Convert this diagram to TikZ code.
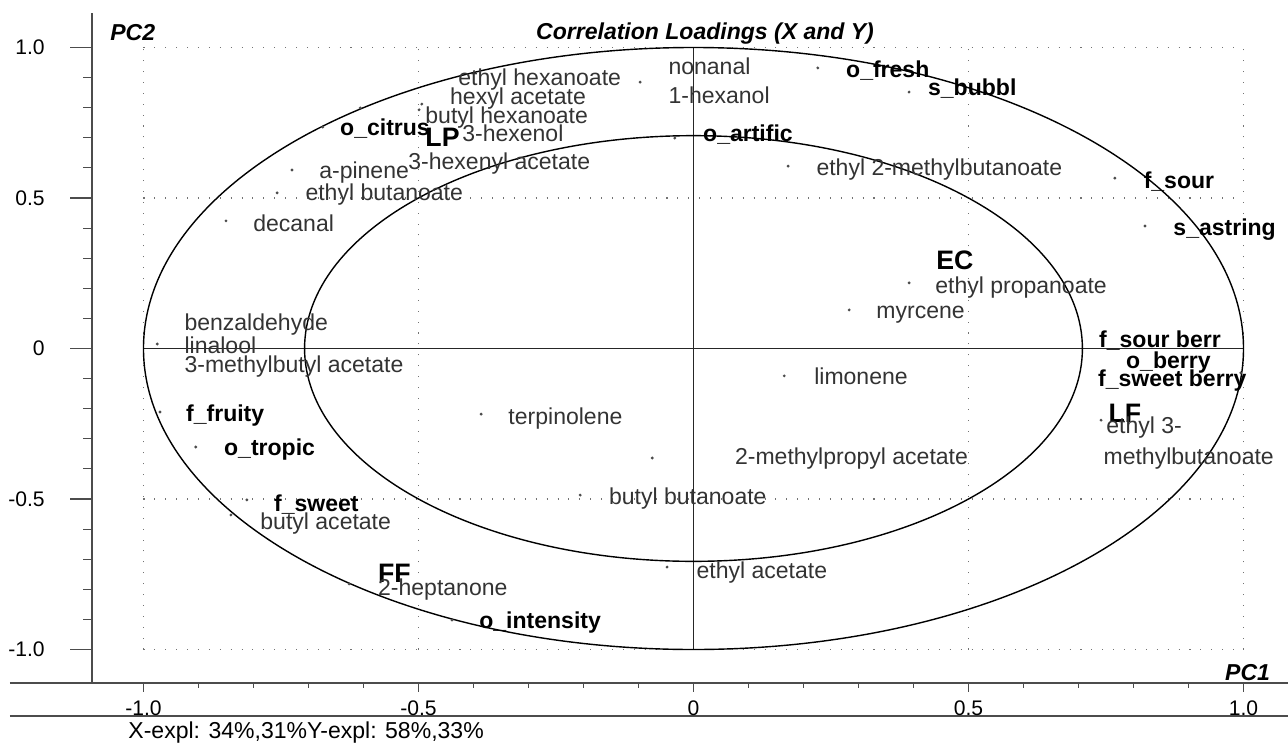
\documentclass[tikz,border=0pt]{standalone}
\usepackage{fontspec}
\setmainfont{Liberation Sans}
\usetikzlibrary{positioning}
\tikzset{
 lbl/.style={anchor=west, inner sep=0pt, text height=9.4pt, text depth=2.6pt, text=black!80, font=\fontsize{13.1}{15}\selectfont},
 blbl/.style={lbl, text=black, font=\fontsize{13.1}{15}\selectfont\bfseries},
 biglbl/.style={lbl, text=black, text height=11pt, text depth=0pt, font=\fontsize{15.2}{17}\selectfont\bfseries},
 ttl/.style={inner sep=0pt, font=\fontsize{13.1}{15}\selectfont\bfseries\itshape},
 ticklbl/.style={inner sep=0pt, font=\fontsize{12}{14}\selectfont},
 grd/.style={black!55, line width=0.6pt, dash pattern=on 0.6pt off 5.6pt},
 ax/.style={black!70, line width=1pt},
 pt/.style={black!70},
}

\begin{document}
\begin{tikzpicture}[x=11cm, y=6.02cm]
\useasboundingbox (-1.2609,-1.3073) rectangle (1.0809,1.1578);
% dotted grid
\foreach \x in {-1,-0.5,0.5,1} {
 \draw[grd] (\x,-1) -- (\x,1);
}
\foreach \y in {-1,-0.5,0.5,1} {
 \draw[grd] (-1,\y) -- (1,\y);
}
% centre lines and the two circles
\draw[black!85, line width=0.8pt] (-1,0) -- (1,0);
\draw[black!85, line width=0.8pt] (0,-1) -- (0,1);
\draw[line width=0.8pt] (0,0) circle (1);
\draw[line width=0.8pt] (0,0) circle (0.7071);
% frame axes
\draw[ax] (-1.0936,1.1146) -- (-1.0936,-1.1113);
\draw[ax] (-1.2427,-1.1113) -- (1.0809,-1.1113);
\draw[ax] (-1.2427,-1.2209) -- (1.0809,-1.2209);
\foreach \i in {-10,...,10} {
 \draw[ax, line width=0.6pt] (-1.0936,\i/10) --++(-0.0164,0);
 \draw[ax, line width=0.6pt] (\i/10,-1.1113) --++(0,-0.0166);
}
\foreach \v/\t in {1/1.0,0.5/0.5,0/0,-0.5/-0.5,-1/-1.0} {
 \draw[ax, line width=0.6pt] (-1.0936,\v) --++(-0.04,0);
 \draw[ax, line width=0.6pt] (\v,-1.1113) --++(0,-0.03);
 \node[ticklbl, anchor=east] (ylab\t) at (-1.179,\v) {\t};
 \node[ticklbl] (xlab\t) at (\v,-1.194) {\t};
}
\node[ttl, anchor=west] (pctwo) at (-1.061,1.048) {PC2};
\node[ttl, anchor=west] (pcone) at (0.966,-1.075) {PC1};
\node[ttl] (title) at (0.021,1.048) {Correlation Loadings (X and Y)};
\node[lbl, text=black] (expl) at (-1.028,-1.2774) {X-expl: 34\%,31\%Y-expl: 58\%,33\%};
% loading points
\foreach \px/\py in {-0.097/0.885, -0.499/0.793, -0.494/0.812, -0.674/0.736, -0.606/0.799,
 -0.730/0.593, -0.757/0.517, -0.850/0.424, 0.226/0.932, 0.392/0.852, -0.034/0.699,
 0.172/0.606, 0.766/0.566, 0.821/0.407, -0.975/0.015, -0.970/-0.211, -0.905/-0.327,
 -0.386/-0.218, -0.075/-0.364, 0.392/0.218, 0.283/0.128, 0.995/-0.081, 0.165/-0.091,
 0.741/-0.238, -0.206/-0.487, -0.812/-0.503, -0.841/-0.553, -0.626/-0.782,
 -0.439/-0.902, -0.048/-0.726} {
 \fill[pt] (\px,\py) circle (0.9pt);
}
% upper left
\node[lbl] (ethhex) at (-0.428,0.895) {ethyl hexanoate};
\node[lbl] (hexac) at (-0.443,0.832) {hexyl acetate};
\node[lbl] (buthex) at (-0.488,0.769) {butyl hexanoate};
\node[blbl] (ocitrus) at (-0.643,0.726) {o\_citrus};
\node[biglbl] (LP) at (-0.488,0.703) {LP};
\node[lbl] (hexenol) at (-0.421,0.709) {3-hexenol};
\node[lbl] (hexenyl) at (-0.519,0.616) {3-hexenyl acetate};
\node[lbl] (apinene) at (-0.681,0.583) {a-pinene};
\node[lbl] (ethbut) at (-0.706,0.510) {ethyl butanoate};
\node[lbl] (decanal) at (-0.801,0.410) {decanal};
% upper right
\node[lbl] (nonanal) at (-0.046,0.929) {nonanal};
\node[lbl] (hexanol) at (-0.046,0.835) {1-hexanol};
\node[blbl] (ofresh) at (0.277,0.919) {o\_fresh};
\node[blbl] (sbubbl) at (0.426,0.862) {s\_bubbl};
\node[blbl] (oartific) at (0.017,0.709) {o\_artific};
\node[lbl] (ethmeth) at (0.223,0.593) {ethyl 2-methylbutanoate};
\node[blbl] (fsour) at (0.818,0.553) {f\_sour};
\node[blbl] (sastring) at (0.872,0.394) {s\_astring};
\node[biglbl] (EC) at (0.441,0.294) {EC};
\node[lbl] (ethprop) at (0.439,0.204) {ethyl propanoate};
\node[lbl] (myrcene) at (0.332,0.118) {myrcene};
% left
\node[lbl] (benzald) at (-0.926,0.078) {benzaldehyde};
\node[lbl] (linalool) at (-0.926,0.002) {linalool};
\node[lbl] (methbutac) at (-0.926,-0.061) {3-methylbutyl acetate};
\node[blbl] (ffruity) at (-0.923,-0.224) {f\_fruity};
\node[blbl] (otropic) at (-0.854,-0.334) {o\_tropic};
\node[lbl] (terpin) at (-0.337,-0.231) {terpinolene};
% right
\node[blbl] (fsourberr) at (0.737,0.022) {f\_sour berr};
\node[blbl] (oberry) at (0.786,-0.048) {o\_berry};
\node[blbl] (fsweetberry) at (0.735,-0.105) {f\_sweet berry};
\node[lbl] (limonene) at (0.219,-0.101) {limonene};
\node[biglbl] (LF) at (0.754,-0.214) {LF};
\node[lbl] (ethmbA) at (0.750,-0.264) {ethyl 3-};
\node[lbl] (ethmbB) at (0.745,-0.364) {methylbutanoate};
\node[lbl] (methprop) at (0.075,-0.364) {2-methylpropyl acetate};
% lower
\node[lbl] (butbut) at (-0.154,-0.497) {butyl butanoate};
\node[blbl] (fsweet) at (-0.763,-0.520) {f\_sweet};
\node[lbl] (butac) at (-0.788,-0.580) {butyl acetate};
\node[biglbl] (FF) at (-0.574,-0.746) {FF};
\node[lbl] (heptanone) at (-0.574,-0.802) {2-heptanone};
\node[blbl] (ointens) at (-0.390,-0.912) {o\_intensity};
\node[lbl] (ethac) at (0.005,-0.743) {ethyl acetate};
\end{tikzpicture}
\end{document}
